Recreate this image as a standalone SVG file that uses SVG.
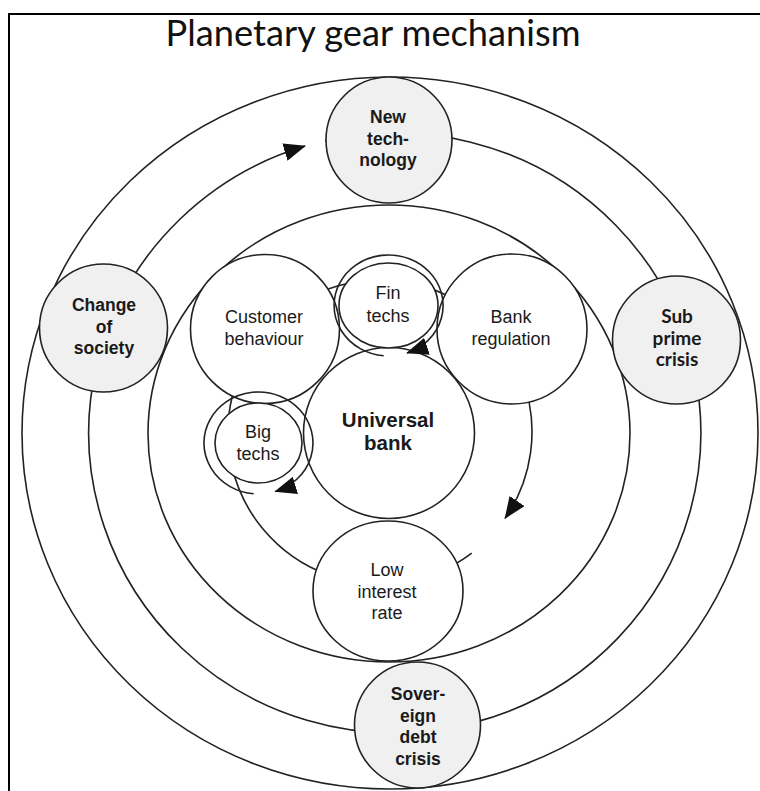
<svg xmlns="http://www.w3.org/2000/svg" width="760" height="791" viewBox="0 0 760 791">
  <defs>
    <marker id="arrow" viewBox="0 0 22 18" refX="21" refY="9" markerWidth="22" markerHeight="18" markerUnits="userSpaceOnUse" orient="auto">
      <path d="M0,0 L22,9 L0,18 z" fill="#111"/>
    </marker>
    <style>
      .ln{fill:none;stroke:#222;stroke-width:1.6}
      .planet{fill:#f0f0f0;stroke:#222;stroke-width:1.6}
      .gear{fill:#fff;stroke:#222;stroke-width:1.6}
      .pt{font-family:"Liberation Sans",Arial,sans-serif;font-weight:bold;font-size:17.5px;fill:#1a1a1a;text-anchor:middle}
      .ct{font-family:Lato,"Liberation Sans",sans-serif;font-weight:bold;font-size:19px;fill:#1a1a1a;text-anchor:middle}
      .gt{font-family:"Liberation Sans",Arial,sans-serif;font-size:18px;fill:#1a1a1a;text-anchor:middle}
      .ub{font-family:"Liberation Sans",Arial,sans-serif;font-weight:bold;font-size:20.5px;fill:#1a1a1a;text-anchor:middle}
      .title{font-family:Lato,"Liberation Sans",sans-serif;font-size:36px;fill:#111;text-anchor:middle}
    </style>
  </defs>

  <rect width="760" height="791" fill="#fff"/>
  <!-- frame (open to the right and bottom) -->
  <path d="M9,791 V14 H760" fill="none" stroke="#000" stroke-width="2"/>

  <text class="title" x="373" y="46" textLength="415" lengthAdjust="spacingAndGlyphs">Planetary gear mechanism</text>

  <!-- orbits and rotation arrows -->
  <g id="connectors">
    <ellipse class="ln" cx="390" cy="433" rx="368" ry="356"/>
    <ellipse class="ln" cx="389" cy="433.5" rx="241" ry="228.5"/>
    <!-- planet orbit, arrow just before New technology -->
    <path class="ln" d="M325,140.7 A306 300 0 1 1 305,146" marker-end="url(#arrow)"/>
    <!-- inner orbit around the universal bank -->
    <path class="ln" d="M471.7,553.2 A152 152 0 1 1 505.1,518.3" marker-end="url(#arrow)"/>
  </g>

  <g id="sub-prime-crisis">
    <circle class="planet" cx="676.5" cy="340" r="64"/>
    <text class="ct" x="677" y="323">Sub</text>
    <text class="ct" x="677" y="345">prime</text>
    <text class="ct" x="677" y="366">crisis</text>
  </g>

  <g id="new-technology">
    <circle class="planet" cx="389" cy="140" r="63"/>
    <text class="pt" x="388" y="123">New</text>
    <text class="pt" x="388" y="145">tech-</text>
    <text class="pt" x="388" y="166">nology</text>
  </g>

  <g id="change-of-society">
    <circle class="planet" cx="103.5" cy="328" r="64"/>
    <text class="pt" x="104" y="311">Change</text>
    <text class="pt" x="104" y="333">of</text>
    <text class="pt" x="104" y="354">society</text>
  </g>

  <g id="sovereign-debt-crisis">
    <circle class="planet" cx="417.5" cy="725" r="63"/>
    <text class="pt" x="418" y="700">Sover-</text>
    <text class="pt" x="418" y="722">eign</text>
    <text class="pt" x="418" y="743">debt</text>
    <text class="pt" x="418" y="765">crisis</text>
  </g>

  <g id="customer-behaviour">
    <circle class="gear" cx="265" cy="329" r="74.5"/>
    <text class="gt" x="264" y="323">Customer</text>
    <text class="gt" x="264" y="345">behaviour</text>
  </g>

  <g id="bank-regulation">
    <circle class="gear" cx="512" cy="329" r="75"/>
    <text class="gt" x="511" y="323">Bank</text>
    <text class="gt" x="511" y="345">regulation</text>
  </g>

  <g id="low-interest-rate">
    <ellipse class="gear" cx="388" cy="591" rx="75" ry="70"/>
    <text class="gt" x="387" y="576">Low</text>
    <text class="gt" x="387" y="598">interest</text>
    <text class="gt" x="387" y="619">rate</text>
  </g>

  <g id="universal-bank">
    <circle class="gear" cx="389" cy="433" r="85.5"/>
    <text class="ub" x="388" y="427">Universal</text>
    <text class="ub" x="388" y="450">bank</text>
  </g>

  <g id="fin-techs">
    <path class="ln" d="M383.7,355.8 A54.5 50.5 0 1 1 407.1,353" marker-end="url(#arrow)"/>
    <ellipse class="gear" cx="388.5" cy="305.5" rx="49.5" ry="42.5"/>
    <text class="gt" x="388" y="299">Fin</text>
    <text class="gt" x="388" y="322">techs</text>
  </g>

  <g id="big-techs">
    <path class="ln" d="M253.7,493.8 A54.5 51 0 1 1 275.3,491.5" marker-end="url(#arrow)"/>
    <ellipse class="gear" cx="258.5" cy="443" rx="43.5" ry="40"/>
    <text class="gt" x="258" y="438">Big</text>
    <text class="gt" x="258" y="460">techs</text>
  </g>
</svg>
